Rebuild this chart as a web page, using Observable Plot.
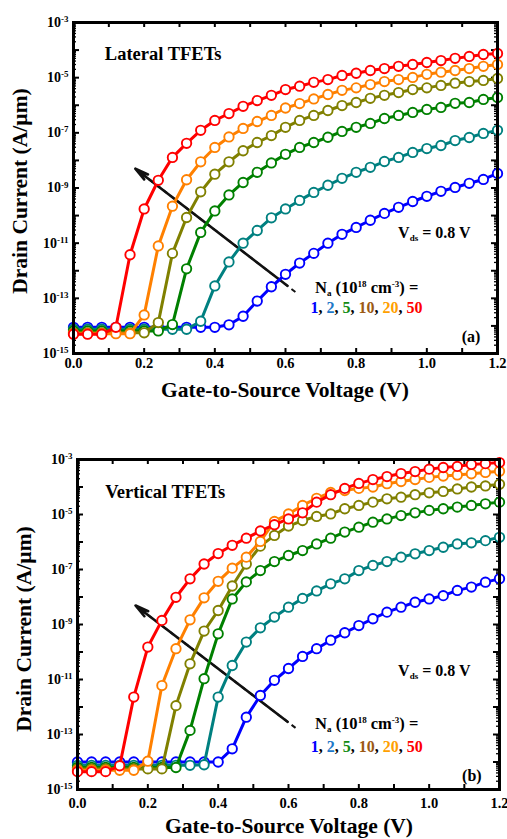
<!DOCTYPE html>
<html>
<head>
<meta charset="utf-8">
<script src="https://cdn.jsdelivr.net/npm/d3@7"></script>
<script src="https://cdn.jsdelivr.net/npm/@observablehq/plot@0.6"></script>
<style>
  html, body { margin: 0; padding: 0; background: #fff; }
  #chart { position: relative; width: 507px; height: 839px; background: #fff; }
  #chart svg { display: block; overflow: visible; }
  #chart svg text, #chart svg tspan { font-family: "Liberation Serif", "Times New Roman", Times, serif !important; font-weight: bold !important; }
</style>
</head>
<body>
<div id="chart"></div>
<script>
// ---- data (drain current stored as log10 of A/µm) ----
const vgs = [0.00,0.04,0.08,0.12,0.16,0.20,0.24,0.28,0.32,0.36,0.40,0.44,0.48,0.52,0.56,0.60,
             0.64,0.68,0.72,0.76,0.80,0.84,0.88,0.92,0.96,1.00,1.04,1.08,1.12,1.16,1.20];
const naLevels = ["1", "2", "5", "10", "20", "50"];
const seriesColors = ["#0000ff", "#008080", "#008000", "#808000", "#ff8000", "#ff0000"];

// (a) Lateral TFETs
const lateral1  = [-14.05,-14.05,-14.05,-14.05,-14.05,-14.05,-14.05,-14.05,-14.05,-14.05,-14.05,-13.96,-13.65,-13.1,-12.58,-12.13,
                   -11.72,-11.37,-11.0,-10.68,-10.43,-10.17,-9.92,-9.7,-9.49,-9.3,-9.12,-8.98,-8.83,-8.69,-8.47];
const lateral2  = [-14.12,-14.12,-14.12,-14.12,-14.12,-14.12,-14.12,-14.12,-14.12,-13.83,-12.55,-11.68,-11.0,-10.54,-10.08,-9.76,
                   -9.45,-9.16,-8.9,-8.65,-8.43,-8.25,-8.04,-7.89,-7.71,-7.57,-7.46,-7.28,-7.17,-7.02,-6.91];
const lateral5  = [-14.18,-14.18,-14.18,-14.18,-14.18,-14.18,-14.18,-13.95,-11.93,-10.61,-9.83,-9.25,-8.8,-8.43,-8.09,-7.78,
                   -7.53,-7.35,-7.16,-6.95,-6.8,-6.66,-6.48,-6.37,-6.26,-6.15,-6.08,-5.93,-5.9,-5.79,-5.72];
const lateral10 = [-14.25,-14.25,-14.25,-14.25,-14.25,-14.25,-13.88,-11.37,-10.07,-9.14,-8.5,-8.05,-7.65,-7.35,-7.1,-6.8,
                   -6.55,-6.37,-6.19,-6.01,-5.9,-5.75,-5.64,-5.54,-5.43,-5.37,-5.28,-5.2,-5.14,-5.1,-5.03];
const lateral20 = [-14.28,-14.28,-14.28,-14.28,-14.28,-13.6,-11.1,-9.66,-8.7,-8.05,-7.53,-7.15,-6.84,-6.59,-6.37,-6.1,
                   -5.94,-5.77,-5.61,-5.46,-5.37,-5.25,-5.14,-5.07,-4.99,-4.88,-4.8,-4.74,-4.67,-4.59,-4.52];
const lateral50 = [-14.3,-14.3,-14.3,-14.05,-11.42,-9.76,-8.72,-7.89,-7.38,-6.91,-6.55,-6.3,-6.04,-5.83,-5.64,-5.43,
                   -5.31,-5.17,-5.07,-4.92,-4.84,-4.74,-4.67,-4.59,-4.52,-4.45,-4.38,-4.3,-4.23,-4.16,-4.12];

// (b) Vertical TFETs
const vertical1  = [-14.0,-14.0,-14.0,-14.0,-14.0,-14.0,-14.0,-14.0,-14.0,-14.0,-14.0,-13.52,-12.37,-11.58,-11.03,-10.6,
                    -10.16,-9.88,-9.57,-9.3,-9.04,-8.79,-8.55,-8.37,-8.19,-8.07,-7.95,-7.76,-7.64,-7.46,-7.34];
const vertical2  = [-14.12,-14.12,-14.12,-14.12,-14.12,-14.12,-14.12,-14.12,-14.12,-14.1,-11.64,-10.49,-9.64,-9.12,-8.73,-8.37,
                    -8.05,-7.78,-7.52,-7.34,-7.04,-6.85,-6.71,-6.55,-6.43,-6.31,-6.19,-6.07,-6.03,-5.95,-5.83];
const vertical5  = [-14.2,-14.2,-14.2,-14.2,-14.2,-14.2,-14.2,-14.2,-12.85,-10.97,-9.34,-8.07,-7.45,-7.04,-6.71,-6.49,
                    -6.31,-6.07,-5.86,-5.64,-5.46,-5.28,-5.16,-5.04,-4.94,-4.85,-4.79,-4.73,-4.67,-4.61,-4.55];
const vertical10 = [-14.25,-14.25,-14.25,-14.25,-14.25,-14.25,-14.25,-11.95,-10.43,-9.24,-8.49,-7.6,-6.8,-6.15,-5.76,-5.42,
                    -5.22,-5.07,-4.98,-4.79,-4.67,-4.55,-4.43,-4.37,-4.28,-4.21,-4.16,-4.07,-4.0,-3.96,-3.9];
const vertical20 = [-14.3,-14.3,-14.3,-14.3,-14.3,-13.97,-11.22,-9.88,-8.83,-8.03,-7.43,-6.95,-6.55,-5.98,-5.25,-4.98,
                    -4.67,-4.41,-4.2,-4.13,-4.05,-4.0,-3.88,-3.8,-3.73,-3.65,-3.6,-3.56,-3.52,-3.47,-3.43];
const vertical50 = [-14.35,-14.35,-14.35,-14.14,-11.64,-9.82,-8.85,-8.01,-7.34,-6.8,-6.42,-6.12,-5.86,-5.6,-5.37,-5.16,
                    -4.94,-4.55,-4.28,-4.05,-3.87,-3.73,-3.62,-3.51,-3.44,-3.35,-3.29,-3.25,-3.18,-3.15,-3.11];

// axis ticks
const xTickLabels = [0.0, 0.2, 0.4, 0.6, 0.8, 1.0, 1.2];
const xMinorTicks = [0.1, 0.3, 0.5, 0.7, 0.9, 1.1];
const yLabelExponents = [-15, -13, -11, -9, -7, -5, -3];
const yDecades = [-15, -14, -13, -12, -11, -10, -9, -8, -7, -6, -5, -4, -3];
const yMinorMantissas = [2, 3, 4, 5, 6, 7, 8, 9];

// legend / annotation text
const legendNumbers = ["1", "2", "5", "10", "20", "50"];
const legendColors = ["#0000ff", "#1e78c8", "#148c14", "#9c5a14", "#ffa000", "#ff0000"];

const FONT = "Liberation Serif, Times New Roman, Times, serif";

function buildRows(arrays) {
  const rows = [];
  arrays.forEach((arr, i) => {
    arr.forEach((lg, j) => rows.push({vgs: vgs[j], id: Math.pow(10, lg), na: naLevels[i]}));
  });
  return rows;
}

const lateralRows = buildRows([lateral1, lateral2, lateral5, lateral10, lateral20, lateral50]);
const verticalRows = buildRows([vertical1, vertical2, vertical5, vertical10, vertical20, vertical50]);

const yMinor = [];
yDecades.slice(0, -1).forEach(d => yMinorMantissas.forEach(m => yMinor.push(m * Math.pow(10, d))));
const yMajor = yDecades.map(d => Math.pow(10, d));

function panel(cfg) {
  const {rows, height, mt, mr, mb, ml, tickPad, title, tag, arrow, ann} = cfg;
  const innerW = 507 - ml - mr, innerH = height - mt - mb;
  const marks = [
    Plot.axisX({ticks: xTickLabels, tickSize: 0, tickPadding: tickPad, tickFormat: d => d.toFixed(1),
                label: null, fontSize: 14.5}),
    Plot.axisY({ticks: yLabelExponents.map(e => Math.pow(10, e)), tickSize: 0, tickPadding: 5,
                tickFormat: d => String(Math.round(Math.log10(d))), label: null, fontSize: 14}),
    // inward ticks
    Plot.tickX(xTickLabels.concat(xMinorTicks), {x: d => d, insetBottom: innerH - 5, strokeWidth: 2}),
    Plot.tickX(xTickLabels.concat(xMinorTicks), {x: d => d, insetTop: innerH - 5, strokeWidth: 2}),
    Plot.tickY(yMajor, {y: d => d, insetRight: innerW - 6, strokeWidth: 2}),
    Plot.tickY(yMajor, {y: d => d, insetLeft: innerW - 6, strokeWidth: 2}),
    Plot.tickY(yMinor, {y: d => d, insetRight: innerW - 3, strokeWidth: 1.3}),
    Plot.tickY(yMinor, {y: d => d, insetLeft: innerW - 3, strokeWidth: 1.3}),
    // arrow
    Plot.link([arrow], {x1: "x1", y1: "y1", x2: "x2", y2: "y2", stroke: "#111", strokeWidth: 2, strokeDasharray: "5,4"}),
    Plot.arrow([arrow], {x1: d => d.x1 + (d.x2 - d.x1) * 0.05, y1: d => d.y1 * Math.pow(d.y2 / d.y1, 0.05),
                         x2: "x2", y2: "y2", stroke: "#111", strokeWidth: 2.6, headLength: 8, headAngle: 26})
  ];
  naLevels.forEach(na => {
    const sub = rows.filter(r => r.na === na);
    marks.push(Plot.line(sub, {x: "vgs", y: "id", stroke: "na", strokeWidth: 3}));
    marks.push(Plot.dot(sub, {x: "vgs", y: "id", stroke: "na", fill: "white", r: 4.7, strokeWidth: 1.9}));
  });
  marks.push(Plot.frame({stroke: "#000", strokeWidth: 3}));

  const svg = Plot.plot({
    width: 507, height,
    marginTop: mt, marginRight: mr, marginBottom: mb, marginLeft: ml,
    style: {fontFamily: FONT, fontWeight: "bold", fontSize: "12px", color: "#000", background: "transparent", overflow: "visible"},
    x: {domain: [0, 1.2]},
    y: {type: "log", domain: [1e-15, 1e-3]},
    color: {domain: naLevels, range: seriesColors},
    marks
  });

  const sel = d3.select(svg);
  // superscript exponents on y tick labels
  sel.selectAll('g[aria-label="y-axis tick label"] text').each(function() {
    const e = this.textContent;
    this.textContent = "10";
    d3.select(this).append("tspan").attr("dy", "-0.55em").attr("font-size", "9px").text(e);
  });
  sel.selectAll('g[aria-label="x-axis tick label"] text').attr("fill", "#000");

  const xs = svg.scale("x"), ys = svg.scale("y");
  const px = v => xs.apply(v), py = lg => ys.apply(Math.pow(10, lg));
  const g = sel.append("g").attr("font-family", FONT).attr("font-weight", "bold")
    .attr("fill", "#000").attr("text-anchor", "start");

  g.append("text").attr("x", px(ann.title[0])).attr("y", py(ann.title[1])).attr("dy", "0.35em")
    .attr("font-size", 18.5).text(title);

  const vds = g.append("text").attr("x", px(ann.vds[0])).attr("y", py(ann.vds[1])).attr("dy", "0.35em").attr("font-size", 16);
  vds.append("tspan").text("V");
  vds.append("tspan").attr("font-size", 9).attr("dy", 3).text("ds");
  vds.append("tspan").attr("dy", -3).text(" = 0.8 V");

  const na = g.append("text").attr("x", px(ann.na[0])).attr("y", py(ann.na[1])).attr("dy", "0.35em").attr("font-size", 16.5);
  na.append("tspan").text("N");
  na.append("tspan").attr("font-size", 9).attr("dy", 3).text("a");
  na.append("tspan").attr("dy", -3).text(" (10");
  na.append("tspan").attr("font-size", 9).attr("dy", -6).text("18");
  na.append("tspan").attr("dy", 6).text(" cm");
  na.append("tspan").attr("font-size", 9).attr("dy", -6).text("-3");
  na.append("tspan").attr("dy", 6).text(") =");

  const list = g.append("text").attr("x", px(ann.list[0])).attr("y", py(ann.list[1])).attr("dy", "0.35em").attr("font-size", 16);
  legendNumbers.forEach((n, i) => {
    list.append("tspan").attr("fill", legendColors[i]).text(n);
    if (i < legendNumbers.length - 1) list.append("tspan").attr("fill", "#000").text(", ");
  });

  g.append("text").attr("x", px(ann.tag[0])).attr("y", py(ann.tag[1])).attr("dy", "0.35em")
    .attr("font-size", 16).text(tag);

  // axis titles
  g.append("text").attr("x", ann.xTitle[0]).attr("y", ann.xTitle[1]).attr("dy", "0.35em")
    .attr("text-anchor", "middle").attr("font-size", 21.5).text("Gate-to-Source Voltage (V)");
  g.append("text").attr("transform", `translate(${ann.yTitle[0]},${ann.yTitle[1]}) rotate(-90)`).attr("dy", "0.35em")
    .attr("text-anchor", "middle").attr("font-size", 21.5).text("Drain Current (A/\u00b5m)");
  return svg;
}

const chart = document.getElementById("chart");
chart.appendChild(panel({
  rows: lateralRows, height: 420, mt: 22, mr: 10, mb: 67, ml: 73, tickPad: 4,
  title: "Lateral TFETs", tag: "(a)",
  arrow: {x1: 0.628, y1: Math.pow(10, -12.77), x2: 0.175, y2: Math.pow(10, -8.30)},
  ann: {title: [0.09, -4.16], vds: [0.92, -10.64], na: [0.685, -12.6], list: [0.672, -13.36], tag: [1.1, -14.41],
        xTitle: [285, 389], yTitle: [19, 191]}
}));
chart.appendChild(panel({
  rows: verticalRows, height: 419, mt: 39, mr: 8, mb: 50, ml: 77, tickPad: 8,
  title: "Vertical TFETs", tag: "(b)",
  arrow: {x1: 0.62, y1: Math.pow(10, -12.76), x2: 0.165, y2: Math.pow(10, -8.31)},
  ann: {title: [0.08, -4.2], vds: [0.913, -10.67], na: [0.677, -12.6], list: [0.665, -13.44], tag: [1.095, -14.49],
        xTitle: [289, 405], yTitle: [23, 209]}
}));
</script>
</body>
</html>
